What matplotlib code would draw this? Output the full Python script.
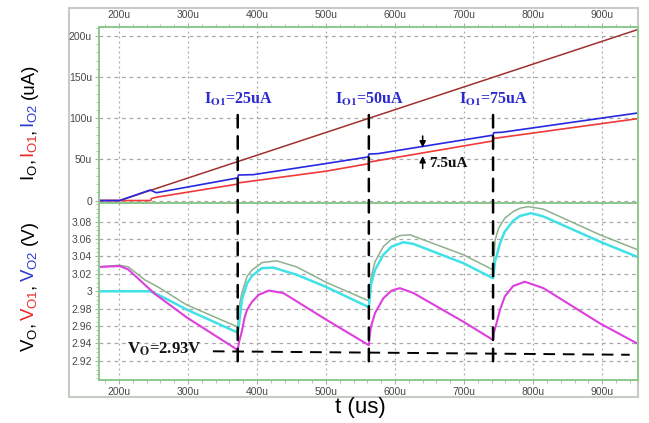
import matplotlib.pyplot as plt
from matplotlib.patches import Rectangle, ConnectionPatch
from matplotlib.ticker import FixedLocator, AutoMinorLocator, FuncFormatter

plt.rcParams['font.family'] = ['Liberation Sans', 'DejaVu Sans']
plt.rcParams['mathtext.fontset'] = 'custom'
plt.rcParams['mathtext.rm'] = 'Liberation Sans'
plt.rcParams['mathtext.it'] = 'Liberation Sans:italic'
plt.rcParams['mathtext.bf'] = 'Liberation Sans:bold'

# time in us, currents in uA, voltages in V
x_ticks = [200, 300, 400, 500, 600, 700, 800, 900]
i_ticks = [0, 50, 100, 150, 200]
v_ticks = [2.92, 2.94, 2.96, 2.98, 3.0, 3.02, 3.04, 3.06, 3.08]

t_io = [171, 201, 952]
i_o = [0, 0, 208]

t_io1 = [171, 246, 247, 254, 372, 373, 378, 500, 561, 562, 742, 743, 952]
i_o1 = [0, 0, 2.5, 4, 20, 21.5, 22, 35.7, 44.7, 46.7, 72.5, 75.5, 99.6]

t_io2 = [171, 201, 245, 254, 372, 373, 395, 500, 561, 562, 575, 742, 743, 755, 952]
i_o2 = [0, 0, 12.8, 9.5, 27.5, 31.0, 31.5, 45, 53, 56.5, 57, 79.5, 82.5, 83, 106.5]

t_vo = [171, 201, 213.5, 237.7, 257, 298, 372,
        374, 378, 385.5, 392.8, 402.5, 407, 428.5, 457.5, 501, 562,
        565, 571, 583, 595, 607, 621.7, 699, 742,
        745, 750, 759, 771, 781, 793, 815, 897, 952]
v_o = [3.028, 3.030, 3.028, 3.013, 3.0047, 2.9844, 2.959,
       2.982, 2.998, 3.017, 3.0246, 3.030, 3.033, 3.035, 3.028, 3.010, 2.989,
       3.015, 3.034, 3.0514, 3.060, 3.064, 3.0649, 3.042, 3.0246,
       3.059, 3.0725, 3.084, 3.0916, 3.0955, 3.0974, 3.0944, 3.0649, 3.0476]

t_vo2 = [171, 245, 262, 298, 372,
         373.5, 378, 385.5, 392.8, 402.5, 407, 423.6, 457.5, 501, 562,
         565, 571, 583, 595, 612, 626.5, 699, 742,
         745, 747, 752, 759, 771, 781, 797.5, 815, 897, 952]
v_o2 = [3.0, 3.0, 2.994, 2.979, 2.9525,
        2.9594, 2.990, 3.009, 3.0177, 3.0238, 3.0266, 3.0272, 3.019, 3.0047, 2.9817,
        3.0074, 3.0246, 3.042, 3.0514, 3.0564, 3.0545, 3.0323, 3.015,
        3.035, 3.040, 3.0553, 3.0686, 3.081, 3.0867, 3.0898, 3.086, 3.057, 3.0392]

t_vo1 = [171, 201, 213.5, 245, 252, 298, 372,
         374, 378, 382, 385.5, 392.8, 402.5, 417, 438, 501, 562,
         563, 565, 571, 583, 595, 607, 626.5, 699, 742,
         743, 747, 752, 759, 771, 788, 815, 897, 952]
v_o1 = [3.028, 3.029, 3.025, 3.002, 2.997, 2.970, 2.9325,
        2.942, 2.954, 2.970, 2.9786, 2.988, 2.996, 3.0008, 2.998, 2.967, 2.938,
        2.948, 2.959, 2.975, 2.992, 3.0008, 3.0036, 2.998, 2.965, 2.944,
        2.952, 2.9633, 2.9786, 2.994, 3.006, 3.011, 3.0036, 2.963, 2.9395]

step_t = [372, 562, 742]
step_labels = ['25uA', '50uA', '75uA']
vo_ref_t = [336, 940]
vo_ref_v = [2.931, 2.927]

W, H = 649, 423
fig = plt.figure(figsize=(W / 100, H / 100), dpi=100)
fig.add_artist(Rectangle((69 / W, 1 - 397 / H), 569 / W, 389 / H, transform=fig.transFigure,
                         fill=False, edgecolor='#c4ccc4', lw=1.5, zorder=0))

ax1 = fig.add_axes([99 / W, 1 - 203 / H, 539 / W, 176 / H])
ax2 = fig.add_axes([99 / W, 1 - 380 / H, 539 / W, 177 / H])

green = '#8cc88c'
for ax in (ax1, ax2):
    ax.set_xlim(171, 952)
    for sp in ax.spines.values():
        sp.set_color(green)
        sp.set_linewidth(1.4)
    ax.xaxis.set_major_locator(FixedLocator(x_ticks))
    ax.xaxis.set_minor_locator(AutoMinorLocator(5))
    ax.xaxis.set_major_formatter(FuncFormatter(lambda v, p: '%du' % v))
    ax.grid(which='major', axis='x', color='#a8a8a8', ls=(0, (1.5, 2.5)), lw=0.9)
    ax.grid(which='major', axis='y', color='#a8a8a8', ls=(0, (3, 3)), lw=0.9)
    ax.tick_params(which='both', direction='out', colors='#9cb89c', labelcolor='#484848',
                   labelsize=7.5, pad=2)
    ax.tick_params(which='major', length=3)
    ax.tick_params(which='minor', length=2)
    ax.set_axisbelow(True)

ax1.tick_params(axis='x', which='both', top=True, bottom=False, labeltop=True, labelbottom=False)
ax1.set_ylim(-3, 211)
ax1.yaxis.set_major_locator(FixedLocator(i_ticks))
ax1.yaxis.set_minor_locator(AutoMinorLocator(5))
ax1.yaxis.set_major_formatter(FuncFormatter(lambda v, p: '0' if v == 0 else '%du' % v))

ax2.set_ylim(2.898, 3.1015)
ax2.yaxis.set_major_locator(FixedLocator(v_ticks))
ax2.yaxis.set_minor_locator(AutoMinorLocator(4))
ax2.yaxis.set_major_formatter(FuncFormatter(lambda v, p: '%g' % round(v, 2)))

# currents
ax1.plot(t_io, i_o, color='#a03030', lw=1.1)
ax1.plot(t_io1, i_o1, color='#f03a3a', lw=1.2)
ax1.plot(t_io2, i_o2, color='#2828e0', lw=1.2)

# voltages
ax2.plot(t_vo, v_o, color='#8eb08e', lw=1.1)
ax2.plot(t_vo2, v_o2, color='#40e2e8', lw=1.8)
ax2.plot(t_vo1, v_o1, color='#de3ede', lw=1.5)
ax2.plot(vo_ref_t, vo_ref_v, color='k', lw=1.4, ls=(0, (6, 4)))

for t, lab in zip(step_t, step_labels):
    fig.add_artist(ConnectionPatch(xyA=(t, 104), coordsA=ax1.transData,
                                   xyB=(t, 2.913), coordsB=ax2.transData,
                                   color='k', lw=1.8, ls=(0, (5, 3.5)), zorder=5))
    ax1.text(t + 1, 123, r'I$_{\mathbf{O1}}$=' + lab, color='#2a2ad0', fontsize=11.5,
             fontweight='bold', family='Liberation Serif', math_fontfamily='stix',
             ha='center', va='center')

ax2.text(265, 2.933, r'V$_{\mathbf{O}}$=2.93V', color='#111111', fontsize=12,
         fontweight='bold', family='Liberation Serif', math_fontfamily='stix',
         ha='center', va='center')

# 7.5uA gap marker
ax1.annotate('', xy=(640, 64.5), xytext=(640, 78.5),
             arrowprops=dict(arrowstyle='-|>', color='k', lw=1.1, mutation_scale=9,
                             shrinkA=0, shrinkB=0))
ax1.annotate('', xy=(640, 54.0), xytext=(640, 39.0),
             arrowprops=dict(arrowstyle='-|>', color='k', lw=1.1, mutation_scale=9,
                             shrinkA=0, shrinkB=0))
ax1.text(649, 45.3, '7.5uA', color='#111111', fontsize=11, fontweight='bold',
         family='Liberation Serif', ha='left', va='center')

fig.text(360 / W, 1 - 407 / H, 't (us)', fontsize=16, ha='center', va='center')


def color_label(pieces, xb, yc, size):
    renderer = fig.canvas.get_renderer()
    items = []
    total = 0
    for s, c, gap in pieces:
        txt = fig.text(0, 0, s, color=c, fontsize=size, rotation=90,
                       rotation_mode='anchor', ha='left', va='baseline')
        h = txt.get_window_extent(renderer).height
        items.append((txt, h, gap))
        total += h + gap
    y = (H - yc) - total / 2
    for txt, h, gap in items:
        y += gap
        txt.set_position((xb / W, y / H))
        y += h


color_label([(r'$\mathregular{I_O}$,', 'k', 0), (r'$\mathregular{I_{O1}}$', '#e82828', 1),
             (',', 'k', 0), (r'$\mathregular{I_{O2}}$', '#2a3ad0', 1),
             ('(uA)', 'k', 5)], 34, 122, 13.5)
color_label([(r'$\mathregular{V_O}$,', 'k', 0), (r'$\mathregular{V_{O1}}$', '#e82828', 2),
             (',', 'k', 0), (r'$\mathregular{V_{O2}}$', '#2a3ad0', 2),
             ('(V)', 'k', 5)], 34, 286, 13.5)

fig.savefig('out.png', dpi=100)
